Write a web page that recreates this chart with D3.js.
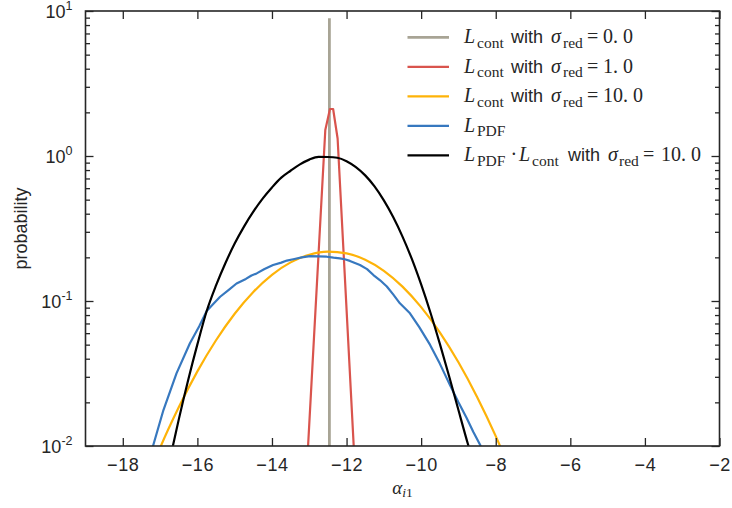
<!DOCTYPE html>
<html>
<head>
<meta charset="utf-8">
<script src="https://cdn.jsdelivr.net/npm/d3@7"></script>
<style>
  html, body { margin: 0; padding: 0; background: #fff; }
  svg { display: block; }
  .tick text { font-family: "Liberation Sans", Arial, sans-serif; fill: #262626; }
</style>
</head>
<body>
<svg id="chart" width="732" height="508"></svg>
<script>
// ---- data -------------------------------------------------------------
// L_cont with sigma_red = 0.0 : a single spike
const contZeroX = [-12.46, -12.46];
const contZeroY = [0.001, 8.9];

// L_cont with sigma_red = 1.0
const contOneX = [-13.06, -13.03, -12.57, -12.445, -12.36, -12.24, -11.81, -11.78];
const contOneY = [0.0075, 0.0102, 1.51, 2.11, 2.11, 1.32, 0.0102, 0.0078];

// L_cont with sigma_red = 10.0
const contTenX = [-17.2, -17.0, -16.5, -16.0, -15.5, -15.0, -14.5, -14.0, -13.5, -13.0, -12.5,
                  -12.0, -11.5, -11.0, -10.5, -10.0, -9.5, -9.0, -8.5, -8.0, -7.6];
const contTenY = [0.0072, 0.0097, 0.0185, 0.0327, 0.0536, 0.0817, 0.1155, 0.1516, 0.1846, 0.2086, 0.2188,
                  0.2130, 0.1925, 0.1614, 0.1256, 0.0907, 0.0608, 0.0378, 0.0218, 0.0117, 0.0067];

// L_PDF
const pdfX = [-17.25, -17.18, -16.91, -16.56, -16.20, -15.95, -15.75, -15.55, -15.39, -15.15, -14.95,
              -14.70, -14.55, -14.41, -14.20, -13.97, -13.75, -13.60, -13.43, -13.20, -12.98, -12.75,
              -12.53, -12.35, -12.18, -12.05, -11.91, -11.64, -11.45, -11.28, -11.10, -10.92, -10.75,
              -10.57, -10.30, -10.05, -9.76, -9.50, -9.23, -9.00, -8.78, -8.60, -8.42, -8.35];
const pdfY = [0.0085, 0.0102, 0.0177, 0.0317, 0.0511, 0.067, 0.0853, 0.097, 0.107, 0.120, 0.132,
              0.142, 0.150, 0.155, 0.166, 0.177, 0.184, 0.190, 0.194, 0.200, 0.204, 0.203,
              0.202, 0.199, 0.197, 0.194, 0.189, 0.177, 0.166, 0.151, 0.139, 0.126, 0.111,
              0.0964, 0.0822, 0.066, 0.0498, 0.037, 0.0264, 0.020, 0.0156, 0.0125, 0.0102, 0.0092];

// L_PDF * L_cont with sigma_red = 10.0
const prodX = [-16.75, -16.65, -16.5, -16.25, -16.0, -15.75, -15.5, -15.25, -15.0, -14.75, -14.5,
               -14.25, -14.0, -13.75, -13.5, -13.25, -13.0, -12.75, -12.5, -12.25, -12.0, -11.75,
               -11.5, -11.25, -11.0, -10.75, -10.5, -10.25, -10.0, -9.75, -9.5, -9.25, -9.0,
               -8.75, -8.65];
const prodY = [0.0079, 0.0102, 0.0152, 0.0283, 0.0502, 0.0853, 0.128, 0.182, 0.249, 0.326, 0.413,
               0.508, 0.607, 0.709, 0.791, 0.875, 0.944, 0.986, 0.984, 0.973, 0.921, 0.838,
               0.735, 0.617, 0.494, 0.379, 0.278, 0.195, 0.130, 0.083, 0.0508, 0.0303, 0.0177,
               0.0104, 0.0085];

const xTicks = [-18, -16, -14, -12, -10, -8, -6, -4, -2];
const yDecades = [-2, -1, 0, 1];

const series = [
  { x: contZeroX, y: contZeroY, color: "#a8a495", width: 2.8, curve: d3.curveLinear,
    label: { sub: "cont", sigma: "0. 0" } },
  { x: contOneX, y: contOneY, color: "#d9544d", width: 2.2, curve: d3.curveLinear,
    label: { sub: "cont", sigma: "1. 0" } },
  { x: contTenX, y: contTenY, color: "#feb308", width: 2.2, curve: d3.curveMonotoneX,
    label: { sub: "cont", sigma: "10. 0" } },
  { x: pdfX, y: pdfY, color: "#3778bf", width: 2.2, curve: d3.curveLinear,
    label: { sub: "PDF" } },
  { x: prodX, y: prodY, color: "#000000", width: 2.2, curve: d3.curveMonotoneX,
    label: { product: true, sigma: "10. 0" } }
];

// ---- layout -----------------------------------------------------------
const svg = d3.select("#chart");
const plotL = 85.5, plotR = 719.5, plotT = 11, plotB = 446;
const ink = "#262626";
const sans = "'Liberation Sans', Arial, sans-serif";
const serif = "'Liberation Serif', 'Times New Roman', serif";

const x = d3.scaleLinear().domain([-19, -2]).range([plotL, plotR]);
const y = d3.scaleLog().domain([0.01, 10]).range([plotB, plotT]);

svg.append("defs").append("clipPath").attr("id", "plot-clip")
  .append("rect").attr("x", plotL).attr("y", plotT)
  .attr("width", plotR - plotL).attr("height", plotB - plotT);

// ---- curves -----------------------------------------------------------
const plot = svg.append("g").attr("clip-path", "url(#plot-clip)");
series.forEach(s => {
  const pts = s.x.map((v, i) => [v, s.y[i]]);
  const line = d3.line().x(d => x(d[0])).y(d => y(d[1])).curve(s.curve);
  plot.append("path").datum(pts)
    .attr("d", line)
    .attr("fill", "none")
    .attr("stroke", s.color)
    .attr("stroke-width", s.width)
    .attr("stroke-linejoin", "round");
});

// ---- axes (ticks point inward on all four sides) ----------------------
const majorLen = 8, minorLen = 4.5;
const minorVals = [];
yDecades.slice(0, -1).forEach(p => {
  for (let k = 2; k <= 9; k++) minorVals.push(k * Math.pow(10, p));
});
const majorVals = yDecades.map(p => Math.pow(10, p));

const gx = svg.append("g").attr("transform", `translate(0,${plotB})`)
  .call(d3.axisBottom(x).tickValues(xTicks).tickSize(-majorLen).tickPadding(12)
    .tickFormat(d => d3.format("d")(d).replace("-", "\u2212")));
gx.selectAll("text").attr("font-size", 18).attr("letter-spacing", 0.6).attr("dy", "0.71em");

svg.append("g").attr("transform", `translate(0,${plotT})`)
  .call(d3.axisTop(x).tickValues(xTicks).tickSize(-majorLen).tickFormat(""));

const gy = svg.append("g").attr("transform", `translate(${plotL},0)`)
  .call(d3.axisLeft(y).tickValues(majorVals).tickSize(-majorLen).tickPadding(13).tickFormat(""));
svg.append("g").attr("transform", `translate(${plotL},0)`)
  .call(d3.axisLeft(y).tickValues(minorVals).tickSize(-minorLen).tickFormat(""));
svg.append("g").attr("transform", `translate(${plotR},0)`)
  .call(d3.axisRight(y).tickValues(majorVals).tickSize(-majorLen).tickFormat(""));
svg.append("g").attr("transform", `translate(${plotR},0)`)
  .call(d3.axisRight(y).tickValues(minorVals).tickSize(-minorLen).tickFormat(""));

// power-of-ten labels
gy.selectAll(".tick").each(function(d) {
  const p = Math.round(Math.log10(d));
  const t = d3.select(this).select("text")
    .attr("x", -13).attr("dy", "0.36em")
    .attr("font-size", 18).attr("text-anchor", "end");
  t.append("tspan").text("10");
  t.append("tspan").attr("font-size", 12.5).attr("dy", "-0.6em")
    .text(p < 0 ? "-" + Math.abs(p) : String(p));
});

svg.selectAll(".domain").remove();
svg.selectAll(".tick line").attr("stroke", ink).attr("stroke-width", 1.3);

svg.append("rect").attr("x", plotL).attr("y", plotT)
  .attr("width", plotR - plotL).attr("height", plotB - plotT)
  .attr("fill", "none").attr("stroke", ink).attr("stroke-width", 1.6);

// ---- axis titles ------------------------------------------------------
svg.append("text")
  .attr("transform", `translate(21,${(plotT + plotB) / 2}) rotate(-90)`)
  .attr("text-anchor", "middle").attr("dy", "0.35em")
  .attr("font-family", sans).attr("font-size", 18).attr("fill", ink)
  .text("probability");

const xt = svg.append("text")
  .attr("x", (plotL + plotR) / 2).attr("y", 494)
  .attr("text-anchor", "middle").attr("font-family", serif).attr("fill", ink);
xt.append("tspan").attr("font-style", "italic").attr("font-size", 19).text("α");
xt.append("tspan").attr("font-style", "italic").attr("font-size", 13.5).attr("dy", 3).text("i");
xt.append("tspan").attr("font-size", 13.5).text("1");

// ---- legend -----------------------------------------------------------
// each entry is a run of pieces; x offsets are measured from the text start
const legend = svg.append("g");
const rowY0 = 37.3, rowStep = 29.5, lineX0 = 407.5, lineX1 = 449, textX = 464;
const mainSize = 20, subSize = 15.5, subDrop = 4.5;

function legendPieces(lab) {
  const p = [];
  if (lab.product) {
    p.push({ at: 0, t: "L", it: true }, { at: 13, t: "PDF", sub: true },
           { at: 46.5, t: "\u00B7" }, { at: 55, t: "L", it: true }, { at: 68, t: "cont", sub: true });
    p.push({ at: 104, t: "with", sans: true }, { at: 144, t: "σ", it: true },
           { at: 155, t: "red", sub: true }, { at: 179, t: "=" }, { at: 197, t: lab.sigma });
  } else {
    p.push({ at: 0, t: "L", it: true }, { at: 13, t: lab.sub, sub: true });
    if (lab.sigma) {
      p.push({ at: 47, t: "with", sans: true }, { at: 87, t: "σ", it: true },
             { at: 99, t: "red", sub: true }, { at: 123, t: "=" }, { at: 139, t: lab.sigma });
    }
  }
  return p;
}

series.forEach((s, i) => {
  const ry = rowY0 + i * rowStep;
  legend.append("line")
    .attr("x1", lineX0).attr("x2", lineX1).attr("y1", ry).attr("y2", ry)
    .attr("stroke", s.color).attr("stroke-width", s.width);
  const t = legend.append("text").attr("y", ry + 6)
    .attr("fill", ink).attr("font-family", serif).attr("font-size", mainSize);
  legendPieces(s.label).forEach(pc => {
    const ts = t.append("tspan").attr("x", textX + pc.at)
      .attr("y", ry + 6 + (pc.sub ? subDrop : 0)).text(pc.t);
    if (pc.it) ts.attr("font-style", "italic");
    if (pc.sub) ts.attr("font-size", subSize);
    if (pc.sans) ts.attr("font-family", sans).attr("font-size", 18);
  });
});
</script>
</body>
</html>
